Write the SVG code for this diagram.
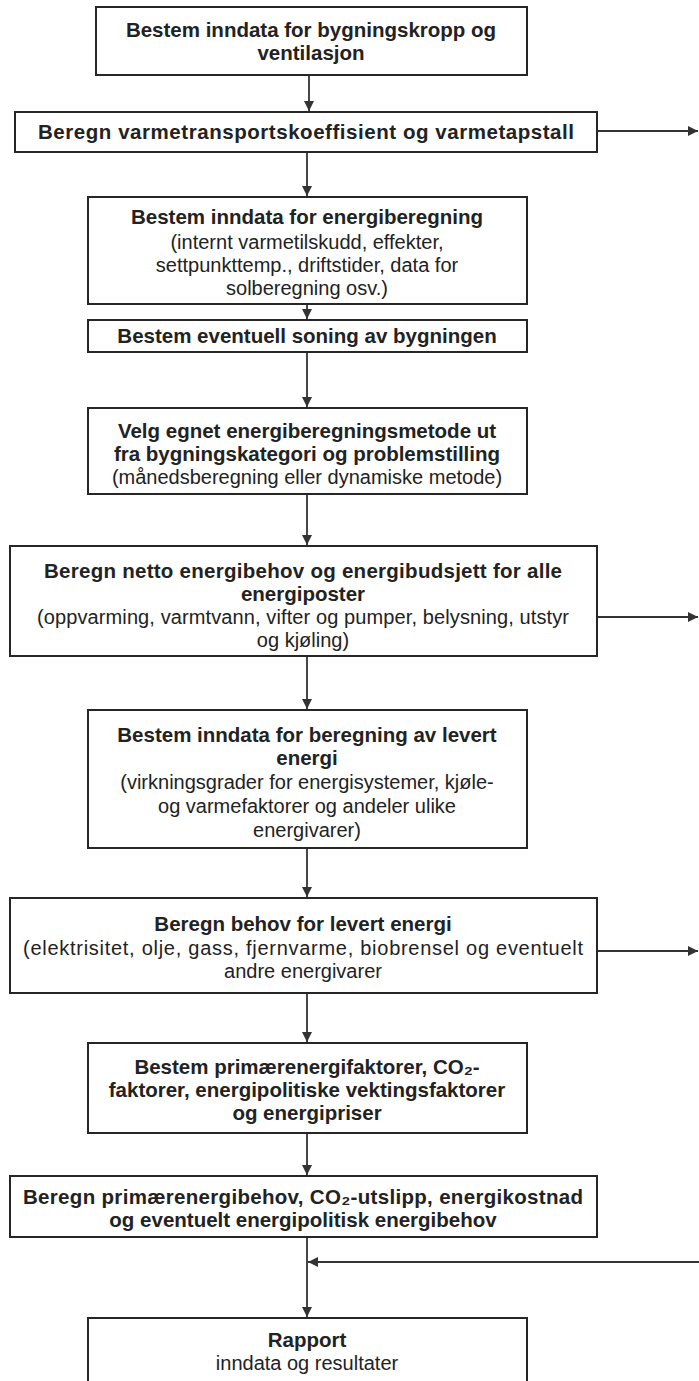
<svg xmlns="http://www.w3.org/2000/svg" width="699" height="1381" viewBox="0 0 699 1381">
<style>
.box{fill:#fff;stroke:#262626;stroke-width:2}
.b{font-family:"Liberation Sans",Arial,sans-serif;font-weight:bold;font-size:20.5px;text-anchor:middle;fill:#222}
.r{font-family:"Liberation Sans",Arial,sans-serif;font-size:20px;text-anchor:middle;fill:#222}
.ln{stroke:#333;stroke-width:1.8;fill:none}
</style>
<defs>
<marker id="ah" viewBox="0 0 10 10" refX="10" refY="5" markerWidth="10" markerHeight="10" markerUnits="userSpaceOnUse" orient="auto">
<path d="M0,0 L10,5 L0,10 Z" fill="#333"/>
</marker>
</defs>
<rect width="699" height="1381" fill="#fff"/>
<g id="connectors">
<line class="ln" x1="309" y1="75" x2="309" y2="111" marker-end="url(#ah)"/>
<line class="ln" x1="307" y1="152" x2="307" y2="196" marker-end="url(#ah)"/>
<line class="ln" x1="307" y1="304" x2="307" y2="319" marker-end="url(#ah)"/>
<line class="ln" x1="307" y1="352" x2="307" y2="407" marker-end="url(#ah)"/>
<line class="ln" x1="307" y1="494" x2="307" y2="545" marker-end="url(#ah)"/>
<line class="ln" x1="307" y1="656" x2="307" y2="709" marker-end="url(#ah)"/>
<line class="ln" x1="307" y1="848" x2="307" y2="897" marker-end="url(#ah)"/>
<line class="ln" x1="307" y1="993" x2="307" y2="1042" marker-end="url(#ah)"/>
<line class="ln" x1="307" y1="1133" x2="307" y2="1175" marker-end="url(#ah)"/>
<line class="ln" x1="307" y1="1237" x2="307" y2="1317" marker-end="url(#ah)"/>
<line class="ln" x1="699" y1="1262" x2="308" y2="1262" marker-end="url(#ah)"/>
<line class="ln" x1="597" y1="131" x2="698" y2="131" marker-end="url(#ah)"/>
<line class="ln" x1="597" y1="617" x2="698" y2="617" marker-end="url(#ah)"/>
<line class="ln" x1="597" y1="951" x2="698" y2="951" marker-end="url(#ah)"/>
</g>
<g id="n1">
<rect class="box" x="96" y="7" width="431" height="68"/>
<text class="b" x="311" y="37">Bestem inndata for bygningskropp og</text>
<text class="b" x="311" y="60">ventilasjon</text>
</g>
<g id="n2">
<rect class="box" x="15" y="112" width="582" height="40"/>
<text class="b" x="306" y="139" textLength="536" lengthAdjust="spacing">Beregn varmetransportskoeffisient og varmetapstall</text>
</g>
<g id="n3">
<rect class="box" x="88" y="197" width="439" height="107"/>
<text class="b" x="307" y="224">Bestem inndata for energiberegning</text>
<text class="r" x="307" y="249">(internt varmetilskudd, effekter,</text>
<text class="r" x="307" y="272">settpunkttemp., driftstider, data for</text>
<text class="r" x="307" y="295">solberegning osv.)</text>
</g>
<g id="n4">
<rect class="box" x="88" y="320" width="439" height="32"/>
<text class="b" x="307" y="343">Bestem eventuell soning av bygningen</text>
</g>
<g id="n5">
<rect class="box" x="88" y="408" width="439" height="86"/>
<text class="b" x="307" y="438">Velg egnet energiberegningsmetode ut</text>
<text class="b" x="307" y="461">fra bygningskategori og problemstilling</text>
<text class="r" x="307" y="484">(månedsberegning  eller dynamiske metode)</text>
</g>
<g id="n6">
<rect class="box" x="10" y="546" width="587" height="110"/>
<text class="b" x="303" y="578" textLength="518" lengthAdjust="spacing">Beregn netto energibehov og energibudsjett for alle</text>
<text class="b" x="303" y="601">energiposter</text>
<text class="r" x="303" y="624" textLength="532" lengthAdjust="spacing">(oppvarming, varmtvann, vifter og pumper, belysning, utstyr</text>
<text class="r" x="303" y="647">og kjøling)</text>
</g>
<g id="n7">
<rect class="box" x="88" y="710" width="439" height="138"/>
<text class="b" x="307" y="742">Bestem inndata for beregning av levert</text>
<text class="b" x="307" y="765">energi</text>
<text class="r" x="307" y="789">(virkningsgrader for energisystemer, kjøle-</text>
<text class="r" x="307" y="813">og varmefaktorer og andeler ulike</text>
<text class="r" x="307" y="837">energivarer)</text>
</g>
<g id="n8">
<rect class="box" x="10" y="898" width="587" height="95"/>
<text class="b" x="303" y="931">Beregn behov for levert energi</text>
<text class="r" x="303" y="955" textLength="560" lengthAdjust="spacing">(elektrisitet, olje, gass, fjernvarme, biobrensel og eventuelt</text>
<text class="r" x="303" y="978">andre energivarer</text>
</g>
<g id="n9">
<rect class="box" x="88" y="1043" width="439" height="90"/>
<text class="b" x="307" y="1074">Bestem primærenergifaktorer, CO₂-</text>
<text class="b" x="307" y="1097">faktorer, energipolitiske vektingsfaktorer</text>
<text class="b" x="307" y="1120">og energipriser</text>
</g>
<g id="n10">
<rect class="box" x="10" y="1176" width="587" height="61"/>
<text class="b" x="303" y="1204" textLength="560" lengthAdjust="spacing">Beregn primærenergibehov, CO₂-utslipp, energikostnad</text>
<text class="b" x="303" y="1227">og eventuelt energipolitisk energibehov</text>
</g>
<g id="n11">
<rect class="box" x="88" y="1318" width="439" height="80"/>
<text class="b" x="307" y="1347">Rapport</text>
<text class="r" x="307" y="1370">inndata og resultater</text>
</g>
</svg>
